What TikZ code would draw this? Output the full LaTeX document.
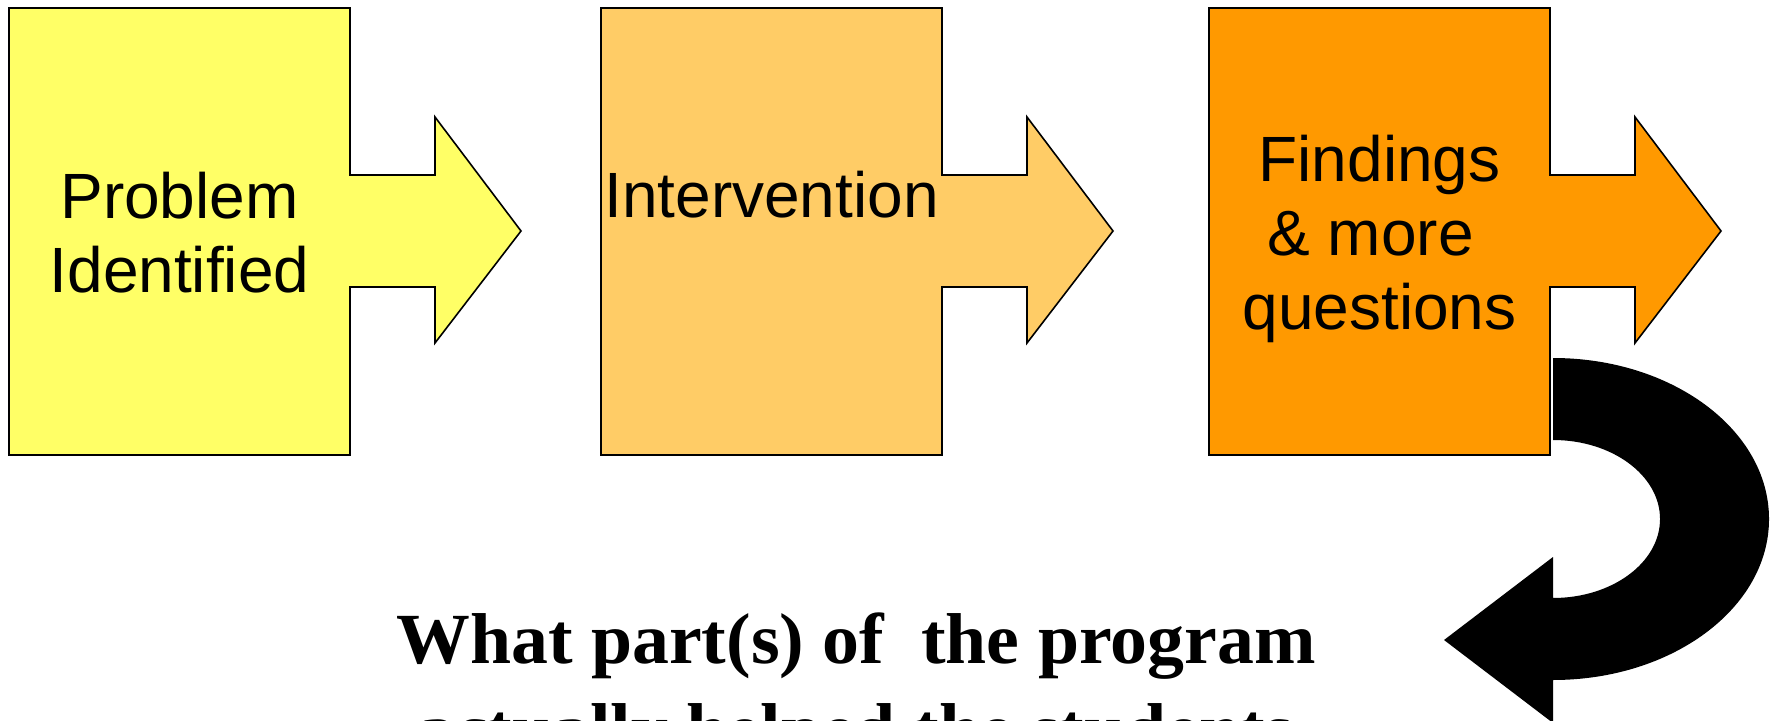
\documentclass[tikz,border=0pt]{standalone}
\usepackage{fontspec}
\newfontfamily\arialf{Liberation Sans}
\newfontfamily\garaf[FakeStretch=1.025]{Liberation Serif}
\definecolor{cYellow}{HTML}{FFFF66}
\definecolor{cLight}{HTML}{FFCC66}
\definecolor{cOrange}{HTML}{FF9900}
% #1 fill colour, #2 left x of the box
\newcommand\calloutshape[2]{%
  \filldraw[callout,fill=#1] (#2,8) -- ++(341,0) -- ++(0,167) -- ++(85,0)
    -- ++(0,-58) -- ++(86,114) -- ++(-86,112) -- ++(0,-56) -- ++(-85,0)
    -- ++(0,168) -- ++(-341,0) -- cycle;}
\begin{document}
\begin{tikzpicture}[x=0.5pt,y=-0.5pt,
  callout/.style={draw=black,line width=0.8pt,line join=miter},
  boxtext/.style={font=\arialf\fontsize{32}{37}\selectfont,inner sep=0pt,align=center},
  qtext/.style={font=\garaf\bfseries\fontsize{36}{45}\selectfont,inner sep=0pt,align=center},
  loop/.style={fill=black}]
\useasboundingbox (0,0) rectangle (1775,721);
\clip (0,0) rectangle (1775,721);
\calloutshape{cYellow}{9}
\calloutshape{cLight}{601}
% curved return arrow
\fill[loop] (1553,358) arc[start angle=-90,end angle=90,x radius=216,y radius=161]
  -- (1553,723) -- (1444,640) -- (1553,557) -- (1553,598)
  arc[start angle=90,end angle=-90,x radius=107,y radius=79] -- cycle;
\calloutshape{cOrange}{1209}
\node[boxtext,anchor=north] (prob) at (179.5,172.2) {Problem\\Identified};
\node[boxtext,anchor=base] (interv) at (771.5,218) {Intervention};
\node[boxtext,anchor=north] (find) at (1379.5,135.2) {Findings\\\& more\hphantom{\ }\\questions};
\node[qtext,anchor=north] (question) at (856,612) {What part(s) of\ \ the program\\actually helped the students};
\end{tikzpicture}
\end{document}
